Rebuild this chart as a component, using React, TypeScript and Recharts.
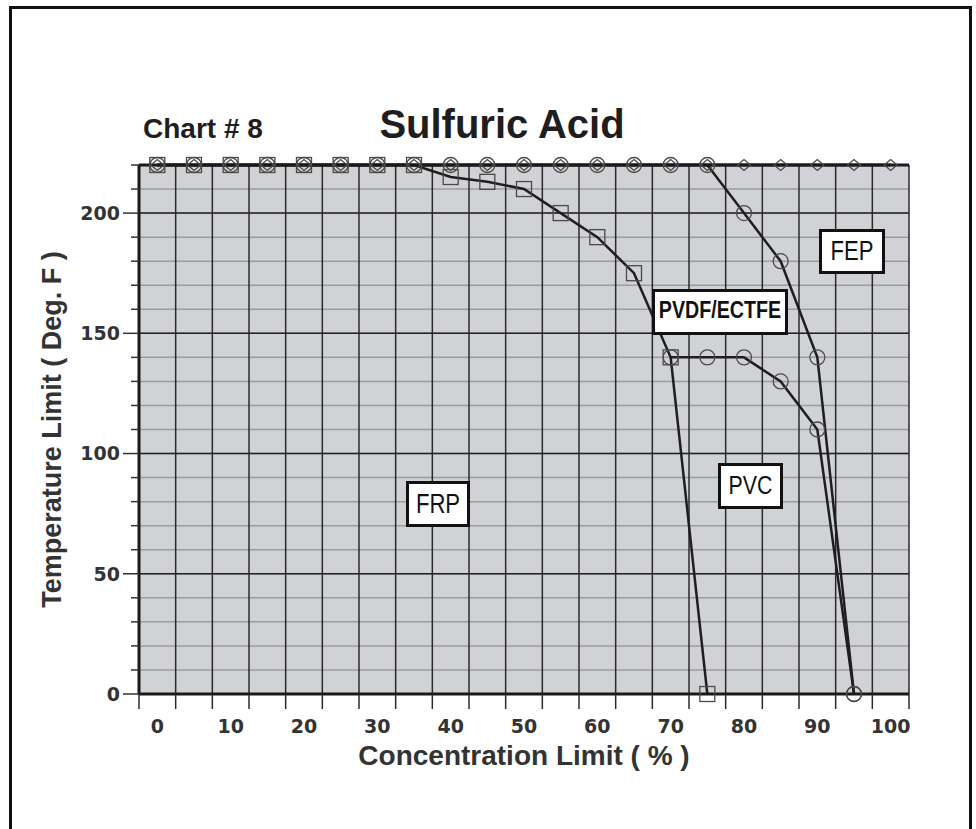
import React from "react"
import { CartesianGrid, Label, Line, LineChart, XAxis, YAxis } from "recharts"

// concentration steps (%) shared by every series
const concentration = [0, 5, 10, 15, 20, 25, 30, 35, 40, 45, 50, 55, 60, 65, 70, 75, 80, 85, 90, 95, 100]

// temperature limits (deg F), one value per concentration step, null = no value
const frpTemp = [220, 220, 220, 220, 220, 220, 220, 220, 215, 213, 210, 200, 190, 175, 140, 0, null, null, null, null, null]
const pvdfTemp = [220, 220, 220, 220, 220, 220, 220, 220, 220, 220, 220, 220, 220, 220, 220, 220, 200, 180, 140, 0, null]
const pvcTemp = [null, null, null, null, null, null, null, null, null, null, null, null, null, null, 140, 140, 140, 130, 110, 0, null]
const fepTemp = [220, 220, 220, 220, 220, 220, 220, 220, 220, 220, 220, 220, 220, 220, 220, 220, 220, 220, 220, 220, 220]

// axis ticks
const xLabelTicks = [0, 10, 20, 30, 40, 50, 60, 70, 80, 90, 100]
const xBandEdges = [-2.5, 2.5, 7.5, 12.5, 17.5, 22.5, 27.5, 32.5, 37.5, 42.5, 47.5, 52.5, 57.5, 62.5, 67.5, 72.5, 77.5, 82.5, 87.5, 92.5, 97.5, 102.5]
const yMajorTicks = [0, 50, 100, 150, 200]
const yMinorTicks = [0, 10, 20, 30, 40, 50, 60, 70, 80, 90, 100, 110, 120, 130, 140, 150, 160, 170, 180, 190, 200, 210, 220]

const data = concentration.map((c, i) => ({
  c,
  frp: frpTemp[i],
  pvdf: pvdfTemp[i],
  pvc: pvcTemp[i],
  fep: fepTemp[i],
}))

const lineColor = "#1e1e1e"
const markColor = "#4a4a4a"
const boldFont = "'Liberation Sans', Arial, sans-serif"
const tickFont = { fill: "#333", fontSize: 19, fontWeight: 700, fontFamily: "'DejaVu Sans', sans-serif" }

const noTick = () => <g />

// y ticks: long tick + label every 50, short tick every 10
const YTick = (p: any) => {
  const v = p.payload?.value
  const major = yMajorTicks.includes(v)
  return (
    <g>
      <line x1={p.x - (major ? 16 : 8)} x2={p.x} y1={p.y} y2={p.y} stroke="#333" strokeWidth={1.5} />
      {major && (
        <text x={p.x - 19} y={p.y} dy="0.36em" textAnchor="end" {...tickFont}>
          {v}
        </text>
      )}
    </g>
  )
}

const empty = (p: any) => p.cx == null || p.cy == null || p.value == null

const SquareDot = (p: any) =>
  empty(p) ? <g key={p.index} /> : (
    <rect key={p.index} x={p.cx - 7.5} y={p.cy - 7.5} width={15} height={15} fill="none" stroke={markColor} strokeWidth={1.3} />
  )

const CircleDot = (p: any) =>
  empty(p) ? <g key={p.index} /> : (
    <ellipse key={p.index} cx={p.cx} cy={p.cy} rx={7.5} ry={7.5} fill="none" stroke={markColor} strokeWidth={1.3} />
  )

const DiamondDot = (p: any) =>
  empty(p) ? <g key={p.index} /> : (
    <path
      key={p.index}
      d={`M${p.cx - 6.5},${p.cy} L${p.cx},${p.cy - 5.5} L${p.cx + 6.5},${p.cy} L${p.cx},${p.cy + 5.5} Z`}
      fill="none"
      stroke={markColor}
      strokeWidth={1.3}
    />
  )

// white boxed material labels
const tags = [
  { text: "FEP", x: 819, y: 229, w: 66, h: 45, base: 260, size: 27, weight: 400 },
  { text: "PVDF/ECTFE", x: 652, y: 289, w: 136, h: 46, base: 318, size: 24, weight: 700 },
  { text: "PVC", x: 718, y: 463, w: 65, h: 46, base: 494, size: 26, weight: 400 },
  { text: "FRP", x: 406, y: 481, w: 64, h: 46, base: 513, size: 27, weight: 400 },
]

export default function App() {
  return (
    <div style={{ position: "absolute", left: 0, top: 0, width: 976, height: 829, overflow: "hidden", background: "#fff" }}>
      <div
        style={{
          position: "absolute",
          left: 9,
          top: 6,
          width: 963,
          height: 900,
          border: "3px solid #111",
          boxSizing: "border-box",
        }}
      />
      <div style={{ position: "absolute", left: 0, top: 0 }}>
        <LineChart width={976} height={829} data={data} margin={{ top: 164, right: 67, left: 0, bottom: 55 }}>
          <CartesianGrid xAxisId="grid" yAxisId="minor" vertical={false} stroke="#9c9c9c" strokeWidth={1.5} fill="#d1d2d5" fillOpacity={1} />
          <CartesianGrid xAxisId="grid" yAxisId="major" vertical={false} stroke="#222" strokeWidth={1.5} />
          <CartesianGrid xAxisId="grid" yAxisId="major" horizontal={false} stroke="#2a2a2a" strokeWidth={1.5} />

          <XAxis
            xAxisId="grid"
            dataKey="c"
            type="number"
            domain={[-2.5, 102.5]}
            ticks={xBandEdges}
            interval={0}
            height={1}
            tickSize={15}
            tick={noTick}
            tickLine={{ stroke: "#2a2a2a", strokeWidth: 1.5 }}
            axisLine={{ stroke: "#1a1a1a", strokeWidth: 3 }}
          />
          <XAxis
            xAxisId="labels"
            dataKey="c"
            type="number"
            domain={[-2.5, 102.5]}
            ticks={xLabelTicks}
            interval={0}
            height={79}
            tickSize={19}
            tickMargin={6}
            tickLine={false}
            axisLine={false}
            tick={tickFont}
          >
            <Label
              value="Concentration Limit ( % )"
              position="insideBottom"
              offset={9}
              style={{ fill: "#333", fontSize: 28, fontWeight: 700, fontFamily: boldFont }}
            />
          </XAxis>
          <XAxis
            xAxisId="top"
            orientation="top"
            dataKey="c"
            type="number"
            domain={[-2.5, 102.5]}
            ticks={[]}
            height={1}
            tick={false}
            tickLine={false}
            axisLine={{ stroke: "#1a1a1a", strokeWidth: 3 }}
          />

          <YAxis yAxisId="major" type="number" domain={[0, 220]} ticks={yMajorTicks} interval={0} width={0} hide />
          <YAxis
            yAxisId="minor"
            type="number"
            domain={[0, 220]}
            ticks={yMinorTicks}
            interval={0}
            width={139}
            tickSize={0}
            tickMargin={0}
            tick={YTick}
            tickLine={false}
            axisLine={{ stroke: "#1a1a1a", strokeWidth: 3 }}
          >
            <Label
              value="Temperature Limit ( Deg. F )"
              angle={-90}
              position="insideLeft"
              offset={55}
              dx={-4}
              style={{ fill: "#333", fontSize: 27, fontWeight: 700, fontFamily: boldFont, textAnchor: "middle" }}
            />
          </YAxis>

          {/* invisible copies so the helper axes get registered and drawn */}
          <Line xAxisId="top" yAxisId="minor" dataKey="fep" stroke="none" dot={false} activeDot={false} isAnimationActive={false} />
          <Line xAxisId="labels" yAxisId="minor" dataKey="fep" stroke="none" dot={false} activeDot={false} isAnimationActive={false} />

          <Line xAxisId="grid" yAxisId="major" dataKey="fep" type="linear" stroke={lineColor} strokeWidth={3} dot={DiamondDot} activeDot={false} isAnimationActive={false} />
          <Line xAxisId="grid" yAxisId="major" dataKey="pvdf" type="linear" stroke={lineColor} strokeWidth={2.5} dot={CircleDot} activeDot={false} isAnimationActive={false} />
          <Line xAxisId="grid" yAxisId="major" dataKey="pvc" type="linear" stroke={lineColor} strokeWidth={2.5} dot={CircleDot} activeDot={false} isAnimationActive={false} />
          <Line xAxisId="grid" yAxisId="major" dataKey="frp" type="linear" stroke={lineColor} strokeWidth={2.5} dot={SquareDot} activeDot={false} isAnimationActive={false} />
        </LineChart>
      </div>
      <svg width={976} height={829} style={{ position: "absolute", left: 0, top: 0, pointerEvents: "none" }}>
        <text x={143} y={138} fill="#1e1e1e" fontSize={28} fontWeight={700} fontFamily={boldFont}>
          Chart # 8
        </text>
        <text x={502} y={138} textAnchor="middle" fill="#1e1e1e" fontSize={40} fontWeight={700} fontFamily={boldFont}>
          Sulfuric Acid
        </text>
        {tags.map((t) => (
          <g key={t.text}>
            <rect x={t.x + 1.5} y={t.y + 1.5} width={t.w - 3} height={t.h - 3} fill="#fff" stroke="#111" strokeWidth={3} />
            <text
              transform={`translate(${t.x + t.w / 2},${t.base}) scale(0.82,1)`}
              textAnchor="middle"
              fill="#111"
              fontSize={t.size}
              fontWeight={t.weight}
              fontFamily={boldFont}
            >
              {t.text}
            </text>
          </g>
        ))}
      </svg>
    </div>
  )
}
